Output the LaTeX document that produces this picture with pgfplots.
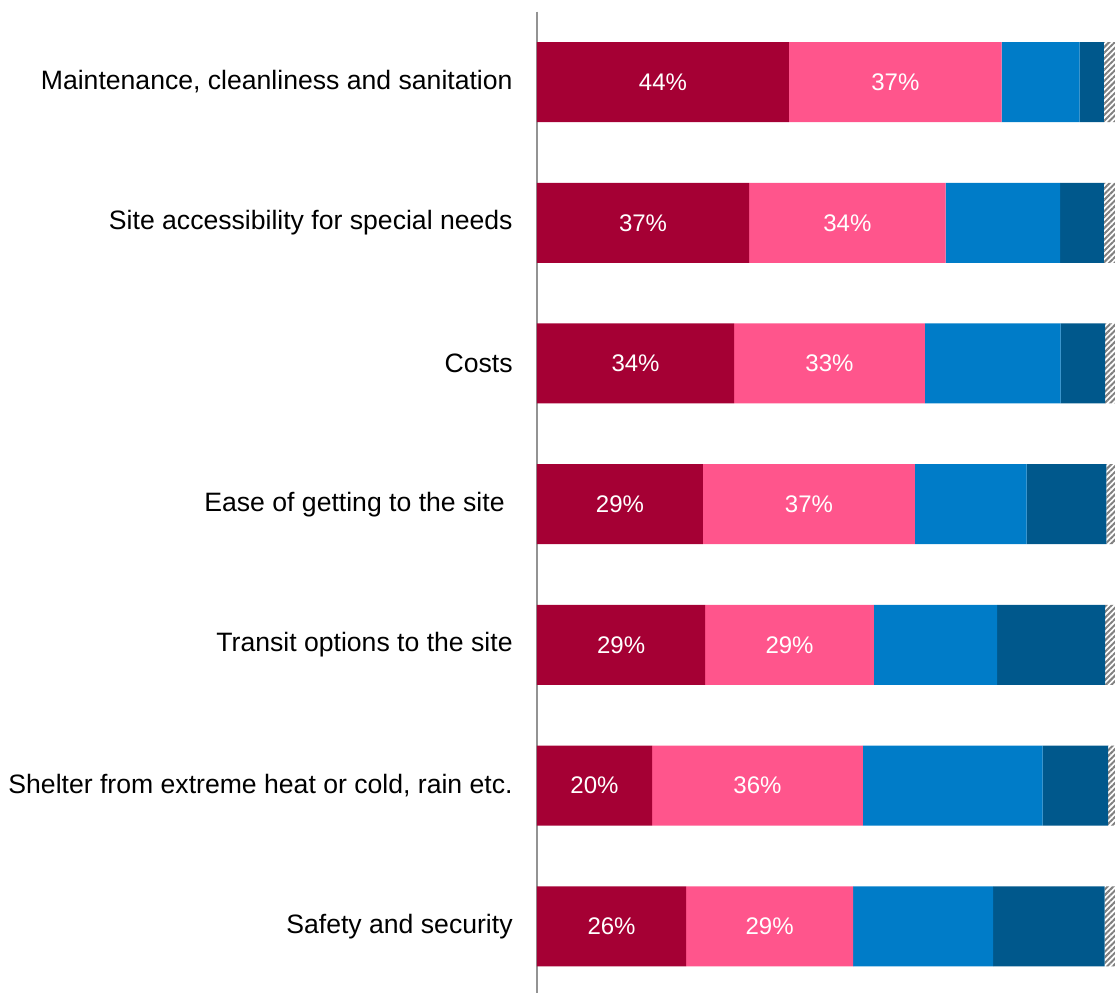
\documentclass[border=0pt]{standalone}
\usepackage{pgfplots}
\pgfplotsset{compat=1.18}
\usetikzlibrary{patterns.meta}
\usepackage{fontspec}
\setmainfont{Liberation Sans}

\definecolor{c1}{HTML}{A50034}
\definecolor{c2}{HTML}{FF558C}
\definecolor{c3}{HTML}{007CC8}
\definecolor{c4}{HTML}{00588C}

\pgfplotsset{frame/.style={
  scale only axis,
  width=291pt, height=490.65pt,
  xmin=0, xmax=100.7,
  ymin=-0.5, ymax=6.474,
  y dir=reverse,
}}

\begin{document}
\begin{tikzpicture}
\begin{axis}[
  frame,
  name=ax,
  xbar stacked,
  bar width=40pt,
  hide x axis,
  axis y line*=left,
  y axis line style={draw=gray!85, line width=1pt},
  ytick={0,...,6},
  yticklabels={{Maintenance, cleanliness and sanitation},
    Site accessibility for special needs, Costs,
    Ease of getting to the site\rule{4pt}{0pt}, Transit options to the site,
    {Shelter from extreme heat or cold, rain etc.}, Safety and security},
  major tick length=0pt,
  yticklabel style={font=\fontsize{13.3}{15}\selectfont, inner sep=0pt, xshift=-12pt},
]
% five answer groups, left to right
\addplot[fill=c1, draw=none]
  coordinates {(43.6,0) (36.7,1) (34.1,2) (28.7,3) (29.1,4) (19.9,5) (25.8,6)};
\addplot[fill=c2, draw=none]
  coordinates {(36.8,0) (34.0,1) (33.0,2) (36.7,3) (29.2,4) (36.5,5) (28.9,6)};
\addplot[fill=c3, draw=none]
  coordinates {(13.5,0) (19.8,1) (23.5,2) (19.3,3) (21.3,4) (31.1,5) (24.2,6)};
\addplot[fill=c4, draw=none]
  coordinates {(4.2,0) (7.6,1) (7.7,2) (13.8,3) (18.7,4) (11.3,5) (19.3,6)};
\addplot[pattern={Lines[angle=45,distance=2pt,line width=1pt]}, pattern color=gray, draw=none]
  coordinates {(1.9,0) (1.9,1) (1.7,2) (1.5,3) (1.7,4) (1.2,5) (1.8,6)};
\end{axis}
% value labels, at the middle of the first two segments
\begin{axis}[
  frame,
  hide axis,
  nodes near coords,
  point meta=explicit symbolic,
  every node near coord/.append style={text=white, font=\fontsize{12}{14}\selectfont, anchor=center},
]
\addplot[draw=none, mark=none]
  coordinates {(21.8,0) [44\%] (18.35,1) [37\%] (17.05,2) [34\%] (14.35,3) [29\%]
               (14.55,4) [29\%] (9.95,5) [20\%] (12.9,6) [26\%]};
\addplot[draw=none, mark=none]
  coordinates {(62.0,0) [37\%] (53.7,1) [34\%] (50.6,2) [33\%] (47.05,3) [37\%]
               (43.7,4) [29\%] (38.15,5) [36\%] (40.25,6) [29\%]};
\end{axis}
\pgfresetboundingbox
\path[use as bounding box] ([xshift=-268.5pt]ax.south west) rectangle ([yshift=5.85pt]ax.north east);
\end{tikzpicture}
\end{document}
